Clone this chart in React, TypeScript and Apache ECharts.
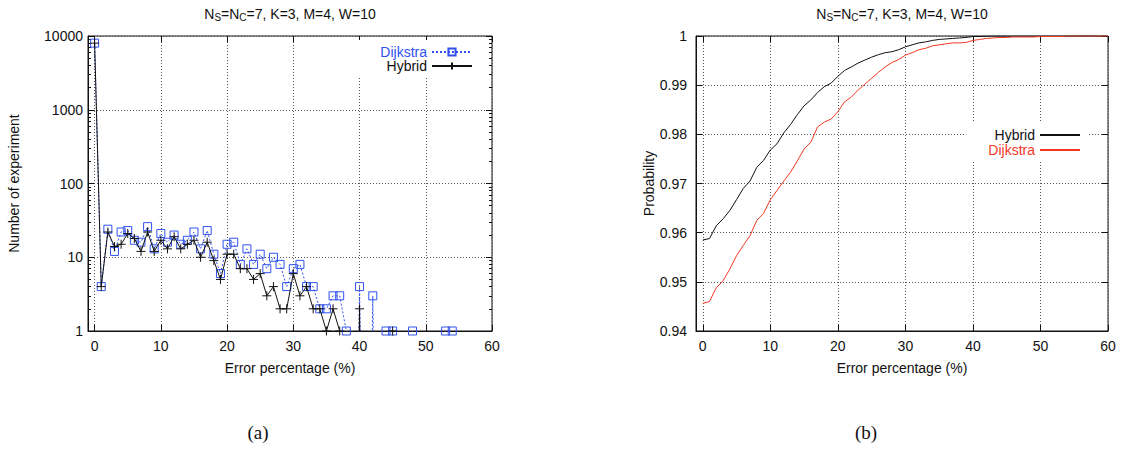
import { useEffect, useRef } from 'react';
import * as echarts from 'echarts';

// ---------- data (a): histogram of error percentage ----------
const histPct = [
  0, 1, 2, 3, 4, 5, 6, 7, 8, 9, 10, 11, 12, 13, 14, 15, 16, 17, 18, 19, 20,
  21, 22, 23, 24, 25, 26, 27, 28, 29, 30, 31, 32, 33, 34, 35, 36, 37, 38, 39, 40,
  41, 42, 43, 44, 45, 46, 47, 48, 49, 50, 51, 52, 53, 54,
];
const dijkstraCount = [
  8000, 4, 24, 12, 22, 23, 17, 16, 26, 13, 21, 16, 20, 15, 17, 22, 13, 23, 11, 6, 15,
  16, 8, 13, 8, 11, 7, 10, 8, 4, 7, 8, 4, 4, 2, 2, 3, 3, 1, 0, 4,
  0, 3, 0, 1, 1, 0, 0, 1, 0, 0, 0, 0, 1, 1,
];
const hybridCount = [
  8000, 4, 22, 14, 15, 21, 18, 12, 22, 12, 17, 13, 19, 13, 15, 17, 10, 16, 9, 5, 11,
  11, 7, 7, 5, 6, 3, 4, 2, 2, 6, 3, 4, 2, 2, 1, 2, 1, 0, 0, 2,
  0, 0, 0, 0, 1, 0, 0, 0, 0, 0, 0, 0, 0, 0,
];

// ---------- data (b): cumulative probability ----------
const cdfPct = [
  0, 1, 2, 3, 4, 5, 6, 7, 8, 9, 10, 11, 12, 13, 14, 15, 16, 17, 18, 19, 20,
  21, 22, 23, 24, 25, 26, 27, 28, 29, 30, 31, 32, 33, 34, 35, 36, 37, 38, 39, 40,
  41, 42, 43, 44, 45, 46, 47, 48, 49, 50, 51, 52, 53, 54, 55, 56, 57, 58, 59, 60,
];
const hybridCdf = [
  0.9585, 0.9588, 0.9614, 0.9628, 0.9645, 0.9667, 0.969, 0.9705, 0.9733, 0.9747, 0.9768,
  0.9781, 0.9803, 0.982, 0.984, 0.9858, 0.987, 0.9885, 0.9897, 0.9904, 0.9918,
  0.993, 0.9937, 0.9945, 0.9951, 0.9957, 0.9962, 0.9966, 0.9968, 0.9972, 0.9978,
  0.9982, 0.9986, 0.9988, 0.9991, 0.9993, 0.9994, 0.9995, 0.9996, 0.9997, 0.9999,
  0.9999, 0.99995, 1, 1, 1, 1, 1, 1, 1, 1,
  1, 1, 1, 1, 1, 1, 1, 1, 1, 1,
];
const dijkstraCdf = [
  0.9456, 0.946, 0.9488, 0.9502, 0.9526, 0.9553, 0.9574, 0.9594, 0.9625, 0.9639, 0.9667,
  0.9686, 0.9705, 0.9723, 0.9746, 0.977, 0.9784, 0.9815, 0.9825, 0.9831, 0.9846,
  0.9866, 0.9876, 0.989, 0.9902, 0.9914, 0.9926, 0.9937, 0.9946, 0.9952, 0.9961,
  0.9966, 0.9972, 0.9975, 0.998, 0.9982, 0.9984, 0.9986, 0.9986, 0.9987, 0.9991,
  0.9993, 0.9995, 0.9996, 0.9997, 0.9997, 0.9998, 0.9998, 0.9998, 0.9998, 0.9999,
  0.9999, 0.9999, 0.9999, 1, 1, 1, 1, 1, 1, 1,
];

// minor tick multipliers of the log axis (2..9 within each decade)
const minorMultipliers = [2, 3, 4, 5, 6, 7, 8, 9];
const decades = [1, 10, 100, 1000];

const TITLE = '{n|N}{s|S}{n|=N}{s|C}{n|=7, K=3, M=4, W=10}';

const BLUE = '#3152f0';
const RED = '#f5381f';
const INK = '#111111';
const FONT = '"Liberation Sans", Arial, Helvetica, sans-serif';
const SERIF = '"Liberation Serif", "Times New Roman", serif';
const ZERO_FLOOR = 1e-6; // gnuplot drops zero counts to -infinity on a log axis

export default function App() {
  const ref = useRef<HTMLDivElement>(null);

  useEffect(() => {
    if (!ref.current) return;
    const chart = echarts.init(ref.current, undefined, { renderer: 'svg' });

    const minorLog: number[] = [];
    decades.forEach((d) => minorMultipliers.forEach((m) => minorLog.push(Math.log10(d * m))));

    const dotted = { type: [1, 2] as any, color: '#555', width: 1 };
    const tickStyle = { color: INK, width: 1 };

    const xMain = (gridIndex: number) => ({
      type: 'value', gridIndex, min: -1, max: 60, position: 'bottom',
      axisLine: { show: true, onZero: false, lineStyle: { color: INK } },
      axisTick: { show: true, inside: true, length: 6, lineStyle: tickStyle },
      axisLabel: {
        show: true, color: INK, fontSize: 14, fontFamily: FONT, margin: 8,
        formatter: (v: number) => (v < 0 ? '' : String(Math.round(v))),
      },
      splitLine: { show: true, lineStyle: dotted },
      name: 'Error percentage (%)', nameLocation: 'middle', nameGap: 30,
      nameTextStyle: { color: INK, fontSize: 14, fontFamily: FONT },
    });
    const xMirror = (gridIndex: number) => ({
      type: 'value', gridIndex, min: -1, max: 60, position: 'top',
      axisLine: { show: false, onZero: false },
      axisTick: { show: true, inside: true, length: 6, lineStyle: tickStyle },
      axisLabel: { show: false }, splitLine: { show: false },
    });

    const histData = (vals: number[]) =>
      histPct.map((x, i) => [x, vals[i] === 0 ? ZERO_FLOOR : vals[i]]);

    const titleRich = {
      n: { fontSize: 14, fontFamily: FONT, fill: INK, color: INK, lineHeight: 16 },
      s: { fontSize: 10, fontFamily: FONT, fill: INK, color: INK, lineHeight: 10, padding: [7, 0, 0, 0] },
    };

    const option: any = {
      animation: false,
      backgroundColor: '#ffffff',
      textStyle: { fontFamily: FONT },
      grid: [
        { left: 88, top: 36, width: 404, height: 295, show: true, borderColor: INK, borderWidth: 1, backgroundColor: 'transparent' },
        { left: 696, top: 36, width: 412, height: 295, show: true, borderColor: INK, borderWidth: 1, backgroundColor: 'transparent' },
      ],
      xAxis: [xMain(0), xMirror(0), xMain(1), xMirror(1)],
      yAxis: [
        {
          type: 'log', logBase: 10, gridIndex: 0, min: 1, max: 10000, position: 'left',
          axisLine: { show: true, onZero: false, lineStyle: { color: INK } },
          axisTick: { show: true, inside: true, length: 6, lineStyle: tickStyle },
          axisLabel: { color: INK, fontSize: 14, fontFamily: FONT, margin: 5, formatter: (v: number) => String(Math.round(v)) },
          splitLine: { show: true, lineStyle: dotted },
          name: 'Number of experiment', nameLocation: 'middle', nameGap: 67, nameRotate: 90,
          nameTextStyle: { color: INK, fontSize: 14, fontFamily: FONT },
        },
        {
          type: 'log', logBase: 10, gridIndex: 0, min: 1, max: 10000, position: 'right',
          axisLine: { show: false, onZero: false },
          axisTick: { show: true, inside: true, length: 6, lineStyle: tickStyle },
          axisLabel: { show: false }, splitLine: { show: false },
        },
        {
          type: 'value', gridIndex: 0, min: 0, max: 4, position: 'left',
          axisLine: { show: false, onZero: false },
          axisTick: { show: true, inside: true, length: 3, lineStyle: tickStyle, customValues: minorLog },
          axisLabel: { show: false }, splitLine: { show: false },
        },
        {
          type: 'value', gridIndex: 0, min: 0, max: 4, position: 'right',
          axisLine: { show: false, onZero: false },
          axisTick: { show: true, inside: true, length: 3, lineStyle: tickStyle, customValues: minorLog },
          axisLabel: { show: false }, splitLine: { show: false },
        },
        {
          type: 'value', gridIndex: 1, min: 0.94, max: 1, interval: 0.01, position: 'left',
          axisLine: { show: true, onZero: false, lineStyle: { color: INK } },
          axisTick: { show: true, inside: true, length: 6, lineStyle: tickStyle },
          axisLabel: {
            color: INK, fontSize: 14, fontFamily: FONT, margin: 9,
            formatter: (v: number) => String(Math.round(v * 100) / 100),
          },
          splitLine: { show: true, lineStyle: dotted },
          name: 'Probability', nameLocation: 'middle', nameGap: 31, nameRotate: 90,
          nameTextStyle: { color: INK, fontSize: 14, fontFamily: FONT },
        },
        {
          type: 'value', gridIndex: 1, min: 0.94, max: 1, interval: 0.01, position: 'right',
          axisLine: { show: false, onZero: false },
          axisTick: { show: true, inside: true, length: 6, lineStyle: tickStyle },
          axisLabel: { show: false }, splitLine: { show: false },
        },
      ],
      legend: [
        {
          orient: 'vertical', align: 'right', right: 643, top: 40,
          itemWidth: 40, itemHeight: 9, itemGap: 0,
          padding: [5, 7, 5, 22], backgroundColor: '#ffffff',
          selectedMode: false,
          textStyle: { fontSize: 14, fontFamily: FONT, lineHeight: 14 },
          data: [
            { name: 'Dijkstra', textStyle: { color: BLUE } },
            { name: 'Hybrid', textStyle: { color: INK } },
          ],
        },
        {
          orient: 'vertical', align: 'right', right: 35, top: 123,
          itemWidth: 40, itemHeight: 9, itemGap: 1,
          padding: [5, 7, 5, 22], backgroundColor: '#ffffff',
          selectedMode: false,
          textStyle: { fontSize: 14, fontFamily: FONT, lineHeight: 14 },
          formatter: (name: string) => name.replace(' CDF', ''),
          data: [
            { name: 'Hybrid CDF', textStyle: { color: INK }, itemStyle: { opacity: 0 } },
            { name: 'Dijkstra CDF', textStyle: { color: RED }, itemStyle: { opacity: 0 } },
          ],
        },
      ],
      series: [
        {
          name: 'Dijkstra', type: 'line', xAxisIndex: 0, yAxisIndex: 0,
          data: histData(dijkstraCount),
          symbol: 'rect', symbolSize: 8, showSymbol: true,
          itemStyle: { color: 'rgba(255,255,255,0)', borderColor: BLUE, borderWidth: 1 },
          lineStyle: { color: BLUE, width: 1, type: [2, 2] },
          clip: true, z: 2,
        },
        {
          name: 'Hybrid', type: 'line', xAxisIndex: 0, yAxisIndex: 0,
          data: histData(hybridCount),
          symbol: 'path://M5 0V10M0 5H10', symbolSize: 9, showSymbol: true, symbolKeepAspect: true,
          itemStyle: { color: INK, borderColor: INK, borderWidth: 1 },
          lineStyle: { color: INK, width: 1 },
          clip: true, z: 3,
        },
        {
          name: 'Hybrid CDF', type: 'line', xAxisIndex: 2, yAxisIndex: 4,
          data: cdfPct.map((x, i) => [x, hybridCdf[i]]),
          showSymbol: false, symbol: 'none',
          itemStyle: { color: INK }, lineStyle: { color: INK, width: 1 },
          clip: true,
        },
        {
          name: 'Dijkstra CDF', type: 'line', xAxisIndex: 2, yAxisIndex: 4,
          data: cdfPct.map((x, i) => [x, dijkstraCdf[i]]),
          showSymbol: false, symbol: 'none',
          itemStyle: { color: RED }, lineStyle: { color: RED, width: 1 },
          clip: true,
        },
      ],
      graphic: [
        {
          type: 'text', x: 290, y: 14,
          style: {
            text: TITLE, align: 'center', verticalAlign: 'middle', fill: INK,
            fontSize: 14, fontFamily: FONT, rich: titleRich,
          },
        },
        {
          type: 'text', x: 902, y: 14,
          style: {
            text: TITLE, align: 'center', verticalAlign: 'middle', fill: INK,
            fontSize: 14, fontFamily: FONT, rich: titleRich,
          },
        },
        {
          type: 'text', x: 258, y: 432,
          style: { text: '(a)', align: 'center', verticalAlign: 'middle', fill: INK, fontSize: 19, fontFamily: SERIF },
        },
        {
          type: 'text', x: 866, y: 432,
          style: { text: '(b)', align: 'center', verticalAlign: 'middle', fill: INK, fontSize: 19, fontFamily: SERIF },
        },
      ],
    };

    chart.setOption(option);
    return () => chart.dispose();
  }, []);

  return (
    <div
      ref={ref}
      style={{ position: 'absolute', left: 0, top: 0, width: 1123, height: 449, background: '#fff' }}
    />
  );
}
